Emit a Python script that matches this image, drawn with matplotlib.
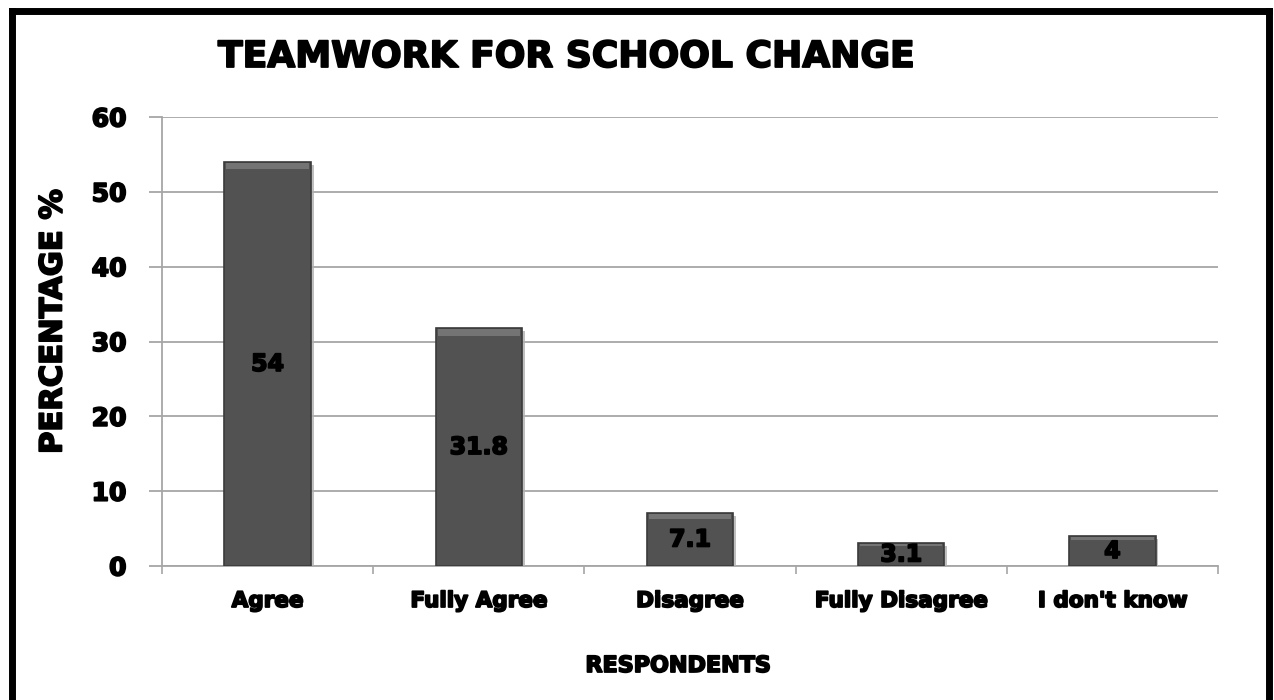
import matplotlib
matplotlib.use("Agg")
import matplotlib.pyplot as plt
import matplotlib.patheffects as pe
from matplotlib.lines import Line2D
import numpy as np

categories = ["Agree", "Fully Agree", "Disagree", "Fully Disagree", "I don't know"]
percentages = [54, 31.8, 7.1, 3.1, 4]
value_labels = ["54", "31.8", "7.1", "3.1", "4"]
yticks = [0, 10, 20, 30, 40, 50, 60]

plt.rcParams['font.family'] = ['DejaVu Sans']
plt.rcParams['font.weight'] = 'bold'

# thicken text a little to get close to the heavy font in the original
heavy = [pe.withStroke(linewidth=1.3, foreground='black')]

fig = plt.figure(figsize=(12.74, 7.0), dpi=100)
ax = fig.add_axes([162 / 1274, 1 - 566 / 700, (1218 - 162) / 1274, (566 - 117) / 700])

x = np.arange(len(categories))
bars = ax.bar(x, percentages, width=0.41, color='#525252', edgecolor='#3a3a3a',
              linewidth=1.2, zorder=3)
for b in bars:
    b.set_path_effects([pe.SimplePatchShadow(offset=(2, -2), shadow_rgbFace='#b0b0b0', alpha=0.8),
                        pe.Normal()])

# lighter top bevel on each bar
bevel = [min(0.9, v * 0.1) for v in percentages]
ax.bar(x, bevel, width=0.39, bottom=np.array(percentages) - np.array(bevel) - 0.1,
       color='#747474', edgecolor='none', zorder=4)

for xi, v, lab in zip(x, percentages, value_labels):
    ax.text(xi, v / 2, lab, ha='center', va='center', fontsize=17, fontweight='bold',
            color='black', zorder=5, path_effects=heavy)

ax.set_xlim(-0.5, len(categories) - 0.5)
ax.set_ylim(0, 60)
ax.set_yticks(yticks)
ax.set_yticklabels([str(t) for t in yticks], fontsize=18, fontweight='bold')
for t in ax.get_yticklabels():
    t.set_path_effects(heavy)
ax.yaxis.grid(True, color='#a6a6a6', linewidth=1.3, zorder=0)
ax.tick_params(axis='y', length=9.5, width=1.3, color='#a6a6a6', pad=16)

ax.set_xticks(x)
ax.set_xticklabels(categories, fontsize=15.5, fontweight='bold')
for t in ax.get_xticklabels():
    t.set_path_effects(heavy)
ax.tick_params(axis='x', length=0, pad=18)
ax.set_xticks(np.arange(len(categories) + 1) - 0.5, minor=True)
ax.tick_params(axis='x', which='minor', length=6, width=1.2, color='#a6a6a6')

for s in ['top', 'right']:
    ax.spines[s].set_visible(False)
for s in ['left', 'bottom']:
    ax.spines[s].set_color('#a6a6a6')
    ax.spines[s].set_linewidth(1.3)

fig.text(567 / 1274, 1 - 57 / 700, "TEAMWORK FOR SCHOOL CHANGE", ha='center', va='center',
         fontsize=26, fontweight='bold', path_effects=heavy)
fig.text(53 / 1274, 1 - 322 / 700, "PERCENTAGE %", rotation=90, ha='center', va='center',
         fontsize=22, fontweight='bold', path_effects=heavy)
fig.text(678 / 1274, 1 - 666 / 700, "RESPONDENTS", ha='center', va='center',
         fontsize=16, fontweight='bold', path_effects=heavy)

# black frame around the chart (left, top, right)
fig.add_artist(Line2D([12 / 1274, 12 / 1274], [0, 1 - 11 / 700], color='black', linewidth=5, transform=fig.transFigure))
fig.add_artist(Line2D([12 / 1274, 1269 / 1274], [1 - 11 / 700, 1 - 11 / 700], color='black', linewidth=5, transform=fig.transFigure, solid_capstyle='projecting'))
fig.add_artist(Line2D([1269 / 1274, 1269 / 1274], [0, 1 - 11 / 700], color='black', linewidth=5, transform=fig.transFigure))

fig.savefig("out.png", dpi=100)
